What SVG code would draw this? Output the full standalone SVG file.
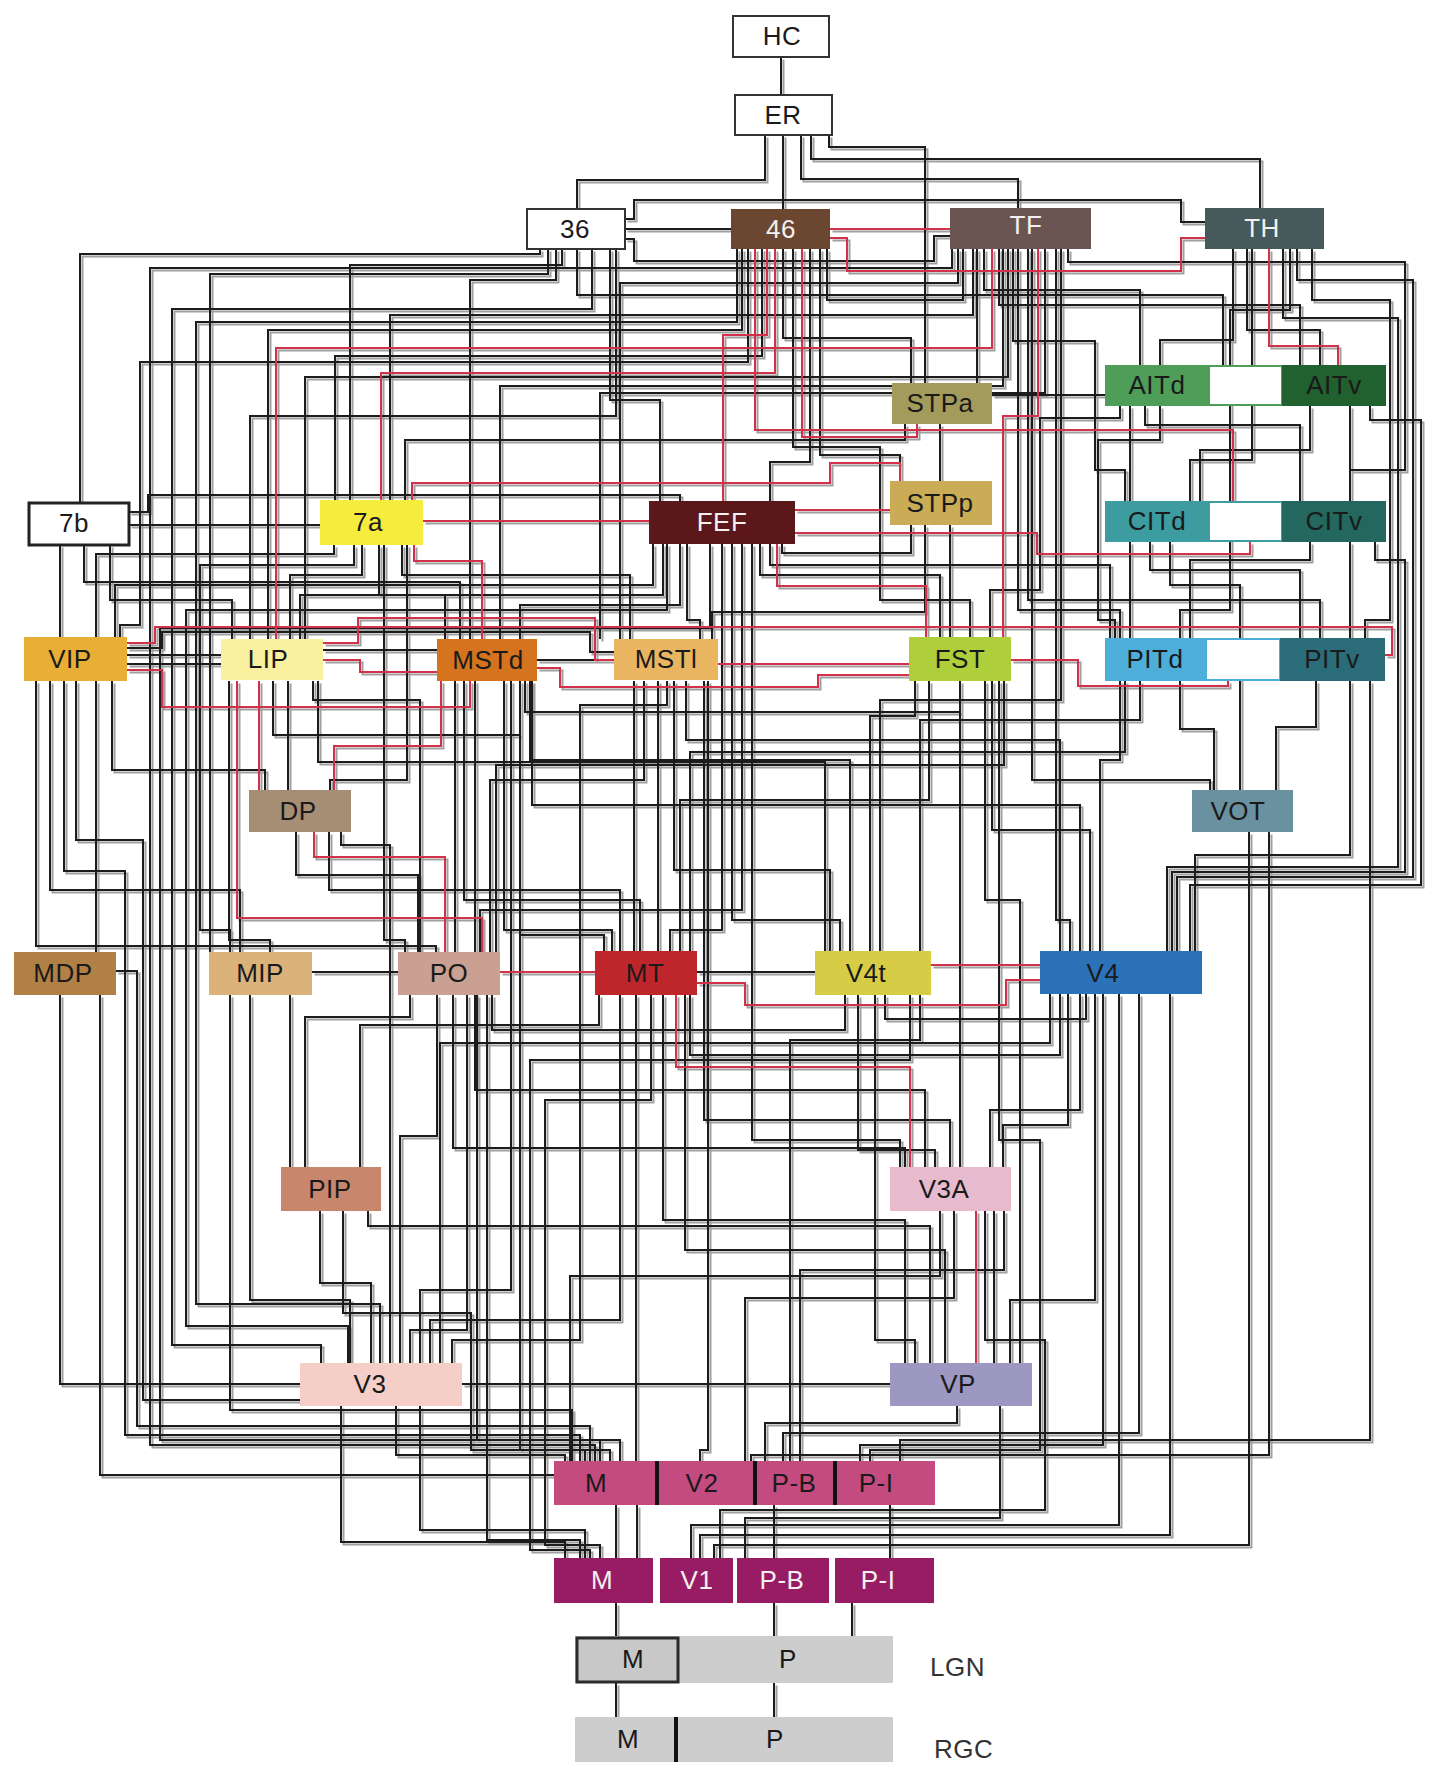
<svg xmlns="http://www.w3.org/2000/svg" width="1436" height="1772" viewBox="0 0 1436 1772">
<style>
.k{fill:none;stroke:#1e1e1e;stroke-width:2}
.r{fill:none;stroke:#d2304a;stroke-width:2}
.n{stroke:none}
.t{font-family:"Liberation Sans",Arial,sans-serif;font-size:26px;text-anchor:middle;fill:#1a1a1a;letter-spacing:0.5px}
.w{fill:#f4f0f0}
.lab{font-family:"Liberation Sans",Arial,sans-serif;font-size:26px;fill:#333;letter-spacing:0.5px}
.gap{fill:#fff;stroke-width:2}
</style>
<defs>
<filter id="sh" x="-2%" y="-2%" width="104%" height="104%"><feDropShadow dx="2.5" dy="2.5" stdDeviation="0.7" flood-color="#808080" flood-opacity="0.75"/></filter>
</defs>
<rect width="1436" height="1772" fill="#fff"/>
<g id="connectors" filter="url(#sh)">
<path class="k" d="M781 57V95"/>
<path class="k" d="M783 135V209"/>
<path class="k" d="M765 135V180H577V209"/>
<path class="k" d="M801 135V179H1018V208"/>
<path class="k" d="M811 135V159H1260V208"/>
<path class="k" d="M829 135V147H925V383"/>
<path class="k" d="M625 229H731"/>
<path class="k" d="M625 219H634V200H1181V222H1205"/>
<path class="k" d="M625 239H634V261H934V236H950"/>
<path class="k" d="M540 249V254H80V502"/>
<path class="k" d="M548 249V274H210V952"/>
<path class="k" d="M556 249V280H470V639"/>
<path class="k" d="M562 249V265H350V500"/>
<path class="k" d="M577 249V295H1223V365"/>
<path class="k" d="M592 249V309H172V1345H321V1363"/>
<path class="k" d="M610 249V400H660V501"/>
<path class="k" d="M616 249V416H250V639"/>
<path class="k" d="M737 249V322H196V1304H380V1363"/>
<path class="k" d="M742 249V330H268V639"/>
<path class="k" d="M748 249V362H140V625H120V637"/>
<path class="k" d="M783 249V338H911V383"/>
<path class="k" d="M793 249V447H880V600H970V637"/>
<path class="k" d="M810 249V462H770V501"/>
<path class="k" d="M820 249V455H900V481"/>
<path class="k" d="M827 249V300H963V249"/>
<path class="k" d="M762 249V356H335V500"/>
<path class="k" d="M952 249V268H150V1445H595V1461"/>
<path class="k" d="M958 249V283H620V639"/>
<path class="k" d="M977 249V383"/>
<path class="k" d="M984 249V290H1140V365"/>
<path class="k" d="M999 249V305H1300V365"/>
<path class="k" d="M1003 249V386H500V639"/>
<path class="k" d="M1008 249V377H305V639"/>
<path class="k" d="M1013 249V341H1095V470H1125V501"/>
<path class="k" d="M1018 249V610H1120V638"/>
<path class="k" d="M1028 249V600H1320V638"/>
<path class="k" d="M1032 249V780H1210V790"/>
<path class="k" d="M1045 249V393H600V639"/>
<path class="k" d="M1056 249V920H1070V951"/>
<path class="k" d="M1061 249V700H880V951"/>
<path class="k" d="M1068 249V262H1405V470H1350V501"/>
<path class="k" d="M973 249V315H390V500"/>
<path class="k" d="M1233 249V340H1160V365"/>
<path class="k" d="M1247 249V330H1320V365"/>
<path class="k" d="M1283 249V318H1398V867H1167V951"/>
<path class="k" d="M1297 249V280H1413V877H1177V951"/>
<path class="k" d="M1312 249V300H1390V620H1365V638"/>
<path class="k" d="M1252 249V460H1190V501"/>
<path class="k" d="M1290 249V310H1230V610H1180V638"/>
<path class="k" d="M992 395H1105"/>
<path class="k" d="M940 424V481"/>
<path class="k" d="M905 424V440H405V500"/>
<path class="k" d="M1130 406V501"/>
<path class="k" d="M1145 406V425H1300V501"/>
<path class="k" d="M1160 406V440H1098V620H1115V638"/>
<path class="k" d="M1310 406V450H1200V501"/>
<path class="k" d="M1350 406V501"/>
<path class="k" d="M1370 406V420H1421V885H1190V951"/>
<path class="k" d="M1120 406V418H1040V590H990V637"/>
<path class="k" d="M1130 542V638"/>
<path class="k" d="M1150 542V570H1300V638"/>
<path class="k" d="M1170 542V585H1240V790"/>
<path class="k" d="M1310 542V560H1190V638"/>
<path class="k" d="M1350 542V638"/>
<path class="k" d="M1375 542V560H1405V872H1172V951"/>
<path class="k" d="M1120 681V760H1100V951"/>
<path class="k" d="M1125 681V752H690V951"/>
<path class="k" d="M1180 681V729H1214V790"/>
<path class="k" d="M1316 681V727H1276V790"/>
<path class="k" d="M1350 681V855H1195V951"/>
<path class="k" d="M1140 681V720H920V951"/>
<path class="k" d="M1370 681V1440H900V1461"/>
<path class="k" d="M1269 832V1455H751V1461"/>
<path class="k" d="M1249 832V1545H714V1558"/>
<path class="k" d="M1170 994V1535H700V1558"/>
<path class="k" d="M1139 994V1433H783V1461"/>
<path class="k" d="M1119 994V1525H691V1558"/>
<path class="k" d="M1103 994V1445H860V1461"/>
<path class="k" d="M1095 994V1300H1010V1363"/>
<path class="k" d="M1080 994V1110H990V1167"/>
<path class="k" d="M1068 994V1125H1003V1167"/>
<path class="k" d="M1050 994V1043H440V1363"/>
<path class="k" d="M885 995V1019H1086V994"/>
<path class="k" d="M858 995V1150H935V1167"/>
<path class="k" d="M875 995V1340H915V1363"/>
<path class="k" d="M920 995V1040H790V1461"/>
<path class="k" d="M910 995V1060H530V1550H590V1558"/>
<path class="k" d="M129 525H320"/>
<path class="k" d="M129 512H148V495H680V501"/>
<path class="k" d="M334 545V554H96V637"/>
<path class="k" d="M354 545V565H200V930H230V952"/>
<path class="k" d="M362 545V575H290V639"/>
<path class="k" d="M379 545V595H445V639"/>
<path class="k" d="M384 545V940H405V952"/>
<path class="k" d="M402 545V575H630V639"/>
<path class="k" d="M407 545V780H330V790"/>
<path class="k" d="M653 544V585H115V637"/>
<path class="k" d="M663 544V595H300V639"/>
<path class="k" d="M680 544V605H520V639"/>
<path class="k" d="M687 544V620H700V639"/>
<path class="k" d="M722 544V930H670V951"/>
<path class="k" d="M732 544V920H840V951"/>
<path class="k" d="M742 544V910H480V952"/>
<path class="k" d="M752 544V1140H900V1167"/>
<path class="k" d="M760 544V575H940V637"/>
<path class="k" d="M770 544V565H1110V638"/>
<path class="k" d="M667 544V610H186V1326H348V1363"/>
<path class="k" d="M710 544V628H160V1440H600V1461"/>
<path class="k" d="M84 545V582H460V639"/>
<path class="k" d="M60 545V637"/>
<path class="k" d="M110 545V600H232V639"/>
<path class="k" d="M950 525V637"/>
<path class="k" d="M925 525V612H712V639"/>
<path class="k" d="M911 525V553H782V544"/>
<path class="k" d="M127 655H221"/>
<path class="k" d="M127 664H221"/>
<path class="k" d="M127 648H162V632H590V652H614"/>
<path class="k" d="M323 650H437"/>
<path class="k" d="M537 660H614"/>
<path class="k" d="M36 681V946H436V952"/>
<path class="k" d="M96 681V952"/>
<path class="k" d="M64 681V871H125V1435H580V1461"/>
<path class="k" d="M50 681V890H240V952"/>
<path class="k" d="M76 681V840H143V1400H300"/>
<path class="k" d="M112 681V770H265V790"/>
<path class="k" d="M229 681V940H270V952"/>
<path class="k" d="M273 681V735H520V935H604V951"/>
<path class="k" d="M288 681V790"/>
<path class="k" d="M313 681V700H420V952"/>
<path class="k" d="M318 681V762H825V951"/>
<path class="k" d="M296 832V875H418V952"/>
<path class="k" d="M329 832V890H620V951"/>
<path class="k" d="M341 832V845H390V1363"/>
<path class="k" d="M455 681V952"/>
<path class="k" d="M464 681V900H640V951"/>
<path class="k" d="M475 681V1090H925V1167"/>
<path class="k" d="M511 681V1290H420V1363"/>
<path class="k" d="M520 681V1450H610V1461"/>
<path class="k" d="M525 681V712H960V681"/>
<path class="k" d="M530 681V760H850V951"/>
<path class="k" d="M532 681V805H1080V951"/>
<path class="k" d="M504 681V930H612V951"/>
<path class="k" d="M634 681V951"/>
<path class="k" d="M644 681V780H490V952"/>
<path class="k" d="M658 681V951"/>
<path class="k" d="M674 681V870H830V951"/>
<path class="k" d="M686 681V740H1060V951"/>
<path class="k" d="M704 681V1120H950V1167"/>
<path class="k" d="M708 681V1450H700V1461"/>
<path class="k" d="M667 681V705H580V1340H452V1363"/>
<path class="k" d="M915 681V716H870V951"/>
<path class="k" d="M929 681V800H680V951"/>
<path class="k" d="M960 681V1167"/>
<path class="k" d="M985 681V900H1020V1363"/>
<path class="k" d="M992 681V830H1090V951"/>
<path class="k" d="M999 681V1140H1040V1450H870V1461"/>
<path class="k" d="M1004 681V765H496V952"/>
<path class="k" d="M116 971H137V1426H590V1461"/>
<path class="k" d="M312 972H398"/>
<path class="k" d="M697 972H815"/>
<path class="k" d="M60 995V1384H300"/>
<path class="k" d="M100 995V1475H554"/>
<path class="k" d="M230 995V1410H572V1461"/>
<path class="k" d="M290 995V1167"/>
<path class="k" d="M250 995V1300H350V1363"/>
<path class="k" d="M410 995V1017H305V1167"/>
<path class="k" d="M437 995V1136H400V1363"/>
<path class="k" d="M453 995V1148H905V1167"/>
<path class="k" d="M467 995V1330H410V1363"/>
<path class="k" d="M477 995V1440H620V1461"/>
<path class="k" d="M487 995V1540H580V1558"/>
<path class="k" d="M492 995V1030H845V995"/>
<path class="k" d="M599 995V1025H360V1167"/>
<path class="k" d="M620 995V1320H430V1363"/>
<path class="k" d="M636 995V1461"/>
<path class="k" d="M651 995V1100H545V1545H600V1558"/>
<path class="k" d="M663 995V1220H905V1363"/>
<path class="k" d="M685 995V1250H945V1363"/>
<path class="k" d="M690 995V1055H1060V994"/>
<path class="k" d="M940 1211V1276H570V1461"/>
<path class="k" d="M954 1211V1298H745V1461"/>
<path class="k" d="M994 1211V1363"/>
<path class="k" d="M1004 1211V1270H800V1461"/>
<path class="k" d="M985 1211V1340H1045V1510H720V1558"/>
<path class="k" d="M320 1211V1283H371V1363"/>
<path class="k" d="M343 1211V1313H471V1450H585V1461"/>
<path class="k" d="M368 1211V1226H930V1363"/>
<path class="k" d="M341 1406V1542H565V1558"/>
<path class="k" d="M396 1406V1455H565V1461"/>
<path class="k" d="M420 1406V1530H585V1558"/>
<path class="k" d="M462 1384H890"/>
<path class="k" d="M957 1406V1423H765V1461"/>
<path class="k" d="M1000 1406V1518H745V1558"/>
<path class="k" d="M616 1505V1558"/>
<path class="k" d="M637 1505V1558"/>
<path class="k" d="M774 1505V1558"/>
<path class="k" d="M890 1505V1558"/>
<path class="k" d="M616 1603V1636"/>
<path class="k" d="M774 1603V1636"/>
<path class="k" d="M852 1603V1636"/>
<path class="k" d="M616 1683V1717"/>
<path class="k" d="M774 1683V1717"/>
<path class="r" d="M830 229H950"/>
<path class="r" d="M830 238H847V271H1181V238H1205"/>
<path class="r" d="M755 249V430H1233V501"/>
<path class="r" d="M767 249V335H723V501"/>
<path class="r" d="M802 249V437H917V424"/>
<path class="r" d="M775 249V373H381V500"/>
<path class="r" d="M992 249V348H276V639"/>
<path class="r" d="M1038 249V416H1003V637"/>
<path class="r" d="M1269 249V346H1338V365"/>
<path class="r" d="M412 500V483H830V463H900V481"/>
<path class="r" d="M423 521H649"/>
<path class="r" d="M795 510H890"/>
<path class="r" d="M795 533H1037V554H1250V542"/>
<path class="r" d="M777 544V586H926V637"/>
<path class="r" d="M414 545V561H482V639"/>
<path class="r" d="M127 643H155V627H1392V655H1385"/>
<path class="r" d="M127 670H162V707H470V681"/>
<path class="r" d="M323 660H360V672H437"/>
<path class="r" d="M323 643H358V618H595V660H614"/>
<path class="r" d="M537 668H560V687H818V675H909"/>
<path class="r" d="M718 664H909"/>
<path class="r" d="M1011 660H1078V686H1228V681"/>
<path class="r" d="M237 681V918H482V952"/>
<path class="r" d="M259 681V790"/>
<path class="r" d="M314 832V857H445V952"/>
<path class="r" d="M441 681V746H334V790"/>
<path class="r" d="M500 972H595"/>
<path class="r" d="M697 983H745V1005H1006V980H1040"/>
<path class="r" d="M931 965H1040"/>
<path class="r" d="M676 995V1067H910V1167"/>
<path class="r" d="M976 1211V1363"/>
</g>
<g id="HC"><rect x="733" y="16" width="96" height="41" fill="#fff" stroke="#333" stroke-width="2"/><text class="t" x="782" y="45" fill="#444">HC</text></g>
<g id="ER"><rect x="735" y="95" width="97" height="40" fill="#fff" stroke="#333" stroke-width="2"/><text class="t" x="783" y="124" fill="#444">ER</text></g>
<g id="A36"><rect x="527" y="209" width="98" height="40" fill="#fff" stroke="#333" stroke-width="2"/><text class="t" x="575" y="238">36</text></g>
<g id="A46"><rect class="n" x="731" y="209" width="99" height="40" fill="#6b4631"/><text class="t w" x="781" y="238">46</text></g>
<g id="TF"><rect class="n" x="950" y="208" width="141" height="41" fill="#6b5553"/><text class="t w" x="1026" y="234">TF</text></g>
<g id="TH"><rect class="n" x="1205" y="208" width="119" height="41" fill="#465a5b"/><text class="t w" x="1262" y="237">TH</text></g>
<g id="STPa"><rect class="n" x="892" y="383" width="100" height="41" fill="#a39b5b"/><text class="t" x="940" y="412">STPa</text></g>
<g id="AIT"><rect class="gap" x="1209" y="366" width="73" height="39" stroke="#4e9e5a"/><rect class="n" x="1105" y="365" width="104" height="41" fill="#4e9e5a"/><rect class="n" x="1282" y="365" width="104" height="41" fill="#21602f"/><text class="t" x="1157" y="394">AITd</text><text class="t" x="1334" y="394">AITv</text></g>
<g id="V7b"><rect x="29" y="503" width="100" height="42" fill="#fff" stroke="#222" stroke-width="3"/><text class="t" x="74" y="532" fill="#333">7b</text></g>
<g id="V7a"><rect class="n" x="320" y="500" width="103" height="45" fill="#f6ec3e"/><text class="t" x="368" y="531">7a</text></g>
<g id="FEF"><rect class="n" x="649" y="501" width="146" height="43" fill="#5b1719"/><text class="t w" x="722" y="531">FEF</text></g>
<g id="STPp"><rect class="n" x="890" y="481" width="102" height="44" fill="#c9ac55"/><text class="t" x="940" y="512">STPp</text></g>
<g id="CIT"><rect class="gap" x="1209" y="502" width="73" height="39" stroke="#3c9ca0"/><rect class="n" x="1105" y="501" width="104" height="41" fill="#3c9ca0"/><rect class="n" x="1282" y="501" width="104" height="41" fill="#23675e"/><text class="t" x="1157" y="530">CITd</text><text class="t" x="1334" y="530">CITv</text></g>
<g id="VIP"><rect class="n" x="24" y="637" width="103" height="44" fill="#e8ae35"/><text class="t" x="70" y="668">VIP</text></g>
<g id="LIP"><rect class="n" x="221" y="639" width="102" height="41" fill="#faf1a0"/><text class="t" x="268" y="668">LIP</text></g>
<g id="MSTd"><rect class="n" x="437" y="639" width="100" height="42" fill="#d5731f"/><text class="t" x="488" y="669">MSTd</text></g>
<g id="MSTl"><rect class="n" x="614" y="639" width="104" height="41" fill="#eab560"/><text class="t" x="666" y="668">MSTl</text></g>
<g id="FST"><rect class="n" x="909" y="637" width="102" height="44" fill="#aece3c"/><text class="t" x="960" y="668">FST</text></g>
<g id="PIT"><rect class="gap" x="1206" y="639" width="74" height="41" stroke="#4daeda"/><rect class="n" x="1105" y="638" width="101" height="43" fill="#4daeda"/><rect class="n" x="1280" y="638" width="105" height="43" fill="#2a6d78"/><text class="t" x="1155" y="668">PITd</text><text class="t" x="1332" y="668">PITv</text></g>
<g id="DP"><rect class="n" x="249" y="790" width="102" height="42" fill="#a68e75"/><text class="t" x="298" y="820">DP</text></g>
<g id="VOT"><rect class="n" x="1192" y="790" width="101" height="42" fill="#6a919f"/><text class="t" x="1238" y="820">VOT</text></g>
<g id="MDP"><rect class="n" x="14" y="952" width="102" height="43" fill="#b08046"/><text class="t" x="63" y="982">MDP</text></g>
<g id="MIP"><rect class="n" x="209" y="952" width="103" height="43" fill="#dbb27a"/><text class="t" x="260" y="982">MIP</text></g>
<g id="PO"><rect class="n" x="398" y="952" width="102" height="43" fill="#c9a091"/><text class="t" x="449" y="982">PO</text></g>
<g id="MT"><rect class="n" x="595" y="951" width="102" height="44" fill="#be262c"/><text class="t" x="645" y="982">MT</text></g>
<g id="V4t"><rect class="n" x="815" y="951" width="116" height="44" fill="#d6cc45"/><text class="t" x="866" y="982">V4t</text></g>
<g id="V4"><rect class="n" x="1040" y="951" width="162" height="43" fill="#2b72b9"/><text class="t" x="1103" y="982">V4</text></g>
<g id="PIP"><rect class="n" x="281" y="1167" width="100" height="44" fill="#c8876d"/><text class="t" x="330" y="1198">PIP</text></g>
<g id="V3A"><rect class="n" x="890" y="1167" width="121" height="44" fill="#e7bacd"/><text class="t" x="944" y="1198">V3A</text></g>
<g id="V3"><rect class="n" x="300" y="1363" width="162" height="43" fill="#f5cfc7"/><text class="t" x="370" y="1393">V3</text></g>
<g id="VP"><rect class="n" x="890" y="1363" width="142" height="43" fill="#9c98c2"/><text class="t" x="958" y="1393">VP</text></g>
<g id="V2"><rect class="n" x="554" y="1461" width="381" height="44" fill="#c44b80"/><path d="M657 1461V1505M755 1461V1505M835 1461V1505" stroke="#111" stroke-width="4"/><text class="t" x="596" y="1492">M</text><text class="t" x="702" y="1492">V2</text><text class="t" x="794" y="1492">P-B</text><text class="t" x="876" y="1492">P-I</text></g>
<g id="V1"><rect class="n" x="554" y="1558" width="99" height="45" fill="#981c63"/><rect class="n" x="660" y="1558" width="73" height="45" fill="#981c63"/><rect class="n" x="737" y="1558" width="92" height="45" fill="#981c63"/><rect class="n" x="835" y="1558" width="99" height="45" fill="#981c63"/><text class="t w" x="602" y="1589">M</text><text class="t w" x="697" y="1589">V1</text><text class="t w" x="782" y="1589">P-B</text><text class="t w" x="878" y="1589">P-I</text></g>
<g id="LGN"><rect class="n" x="575" y="1636" width="318" height="47" fill="#cdcdcd"/><rect x="577" y="1638" width="101" height="44" fill="#c8c8c8" stroke="#2a2a2a" stroke-width="3"/><text class="t" x="633" y="1668">M</text><text class="t" x="788" y="1668">P</text><text class="lab" x="930" y="1676">LGN</text></g>
<g id="RGC"><rect class="n" x="575" y="1717" width="318" height="45" fill="#cdcdcd"/><path d="M676 1717V1762" stroke="#111" stroke-width="4"/><text class="t" x="628" y="1748">M</text><text class="t" x="775" y="1748">P</text><text class="lab" x="934" y="1758">RGC</text></g>
</svg>
